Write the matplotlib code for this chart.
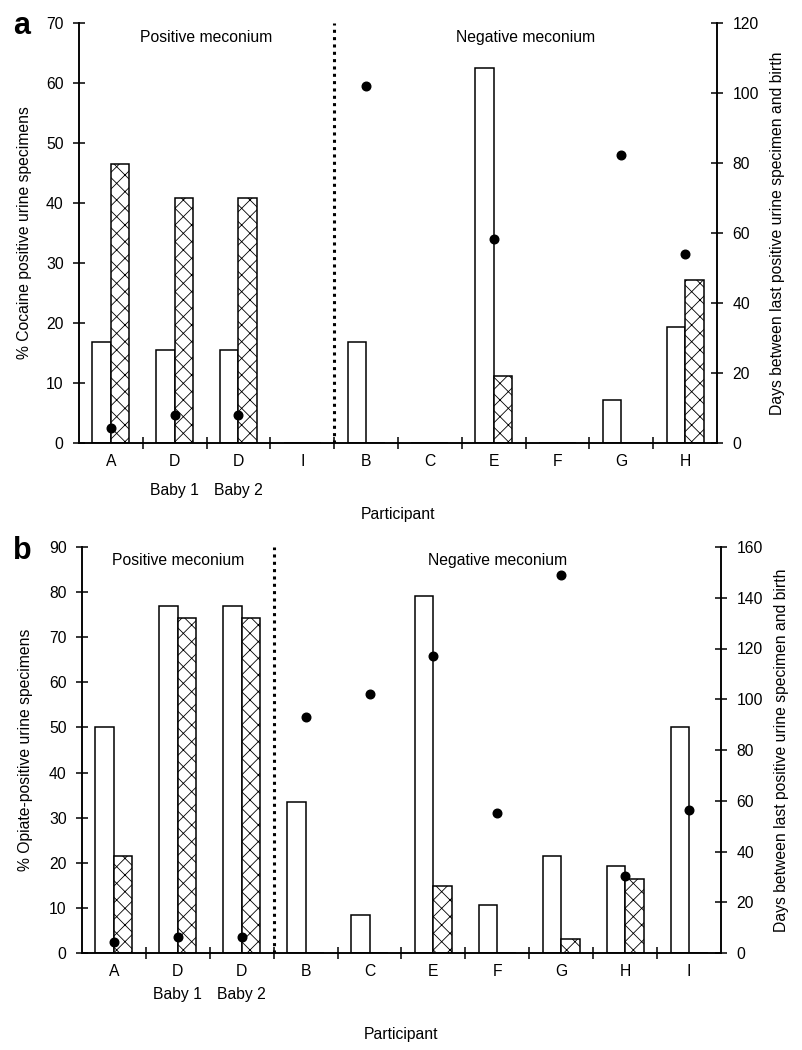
import numpy as np
import matplotlib
matplotlib.use("Agg")
import matplotlib.pyplot as plt
from matplotlib.transforms import blended_transform_factory

plt.rcParams['font.family'] = ['Liberation Sans', 'DejaVu Sans']
plt.rcParams['hatch.linewidth'] = 0.6

# ---------------- Panel a (cocaine) ----------------
cats_a = ["A", "D", "D", "I", "B", "C", "E", "F", "G", "H"]
sub_a = ["", "Baby 1", "Baby 2", "", "", "", "", "", "", ""]
open_a = [16.8, 15.5, 15.5, 0, 16.8, 0, 62.5, 0, 7.2, 19.3]
hatch_a = [46.5, 40.8, 40.8, 0, 0, 0, 11.2, 0, 0, 27.1]
days_a = [4.3, 8.1, 8.1, np.nan, 102, np.nan, 58.2, np.nan, 82.2, 54.1]

# ---------------- Panel b (opiates) ----------------
cats_b = ["A", "D", "D", "B", "C", "E", "F", "G", "H", "I"]
sub_b = ["", "Baby 1", "Baby 2", "", "", "", "", "", "", ""]
open_b = [50.1, 77.0, 77.0, 33.4, 8.4, 79.2, 10.7, 21.5, 19.3, 50.1]
hatch_b = [21.5, 74.2, 74.2, 0, 0, 14.9, 0, 3.2, 16.4, 0]
days_b = [4.3, 6.2, 6.2, 93.2, 102, 117, 55.3, 149, 30.3, 56.2]

FS = 11.3
LW = 1.1

fig = plt.figure(figsize=(8.03, 10.5), dpi=100)


def panel(rect, cats, subs, opn, hat, days, ymax, ystep, dmax, dstep, split,
          ylab, letter, pos_x, neg_x, sub_y, part_y, letter_xy, ylab_x, rlab_x):
    ax = fig.add_axes(rect)
    n = len(cats)
    x = np.arange(n)
    w = 0.29
    ax.bar(x - w / 2, opn, width=w, color="white", edgecolor="black",
           linewidth=LW, zorder=2)
    ax.bar(x + w / 2, hat, width=w, color="white", edgecolor="black",
           linewidth=LW, hatch="xx", zorder=2)
    ax.set_xlim(-0.5, n - 0.5)
    ax.set_ylim(0, ymax)
    ax.set_yticks(np.arange(0, ymax + 1, ystep))
    ax.set_xticks(x)
    ax.set_xticklabels(cats)
    ax.set_xticks(np.arange(0.5, n - 0.5), minor=True)
    ax.tick_params(axis="x", which="major", length=0, pad=8, labelsize=FS)
    ax.tick_params(axis="x", which="minor", direction="inout", length=8,
                   width=LW)
    ax.tick_params(axis="y", direction="inout", length=8, width=LW,
                   labelsize=FS, pad=7)
    for s in ["left", "bottom", "right"]:
        ax.spines[s].set_linewidth(LW)
    ax.spines["top"].set_visible(False)
    ax.axvline(split, color="black", linestyle=(0, (1, 1.4)), linewidth=2.2,
               zorder=3)

    ax.set_ylabel(ylab, fontsize=FS, va="center")
    ax.yaxis.set_label_coords(ylab_x, 0.5)

    trans = blended_transform_factory(ax.transData, ax.transAxes)
    for xi, s in zip(x, subs):
        if s:
            ax.text(xi, sub_y, s, transform=trans, ha="center", va="center",
                    fontsize=FS)
    ax.text(0.5, part_y, "Participant", transform=ax.transAxes, ha="center",
            va="center", fontsize=FS)
    ax.text(pos_x, 0.966, "Positive meconium", transform=trans, ha="center",
            va="center", fontsize=FS)
    ax.text(neg_x, 0.966, "Negative meconium", transform=trans, ha="center",
            va="center", fontsize=FS)

    ax2 = ax.twinx()
    ax2.plot(x, days, linestyle="none", marker="o", markersize=6.2,
             color="black", zorder=4)
    ax2.set_ylim(0, dmax)
    ax2.set_yticks(np.arange(0, dmax + 1, dstep))
    ax2.tick_params(axis="y", direction="inout", length=8, width=LW,
                    labelsize=FS, pad=7)
    for s in ["left", "bottom", "right"]:
        ax2.spines[s].set_linewidth(LW)
    ax2.spines["top"].set_visible(False)
    ax2.set_ylabel("Days between last positive urine specimen and birth",
                   fontsize=FS, va="center", rotation=90)
    ax2.yaxis.set_label_coords(rlab_x, 0.5)

    fig.text(letter_xy[0], letter_xy[1], letter, fontsize=22,
             fontweight="bold", ha="center", va="center")
    return ax, ax2


W, H = 803.0, 1050.0

# Panel a: axes pixel box x 79-717, y 23-443
panel([79 / W, 1 - 443 / H, (717 - 79) / W, (443 - 23) / H],
      cats_a, sub_a, open_a, hatch_a, days_a, 70, 10, 120, 20, 3.5,
      "% Cocaine positive urine specimens", "a", 1.5, 6.5,
      -47 / 420, -72 / 420, (22 / W, 1 - 26 / H),
      (25 - 79) / 638, (778 - 79) / 638)

# Panel b: axes pixel box x 82-721, y 547-953
panel([82 / W, 1 - 953 / H, (721 - 82) / W, (953 - 547) / H],
      cats_b, sub_b, open_b, hatch_b, days_b, 90, 10, 160, 20, 2.5,
      "% Opiate-positive urine specimens", "b", 1.0, 6.0,
      -42 / 406, -82 / 406, (22 / W, 1 - 551 / H),
      (25 - 82) / 639, (782 - 82) / 639)

fig.savefig("out.png", dpi=100)
